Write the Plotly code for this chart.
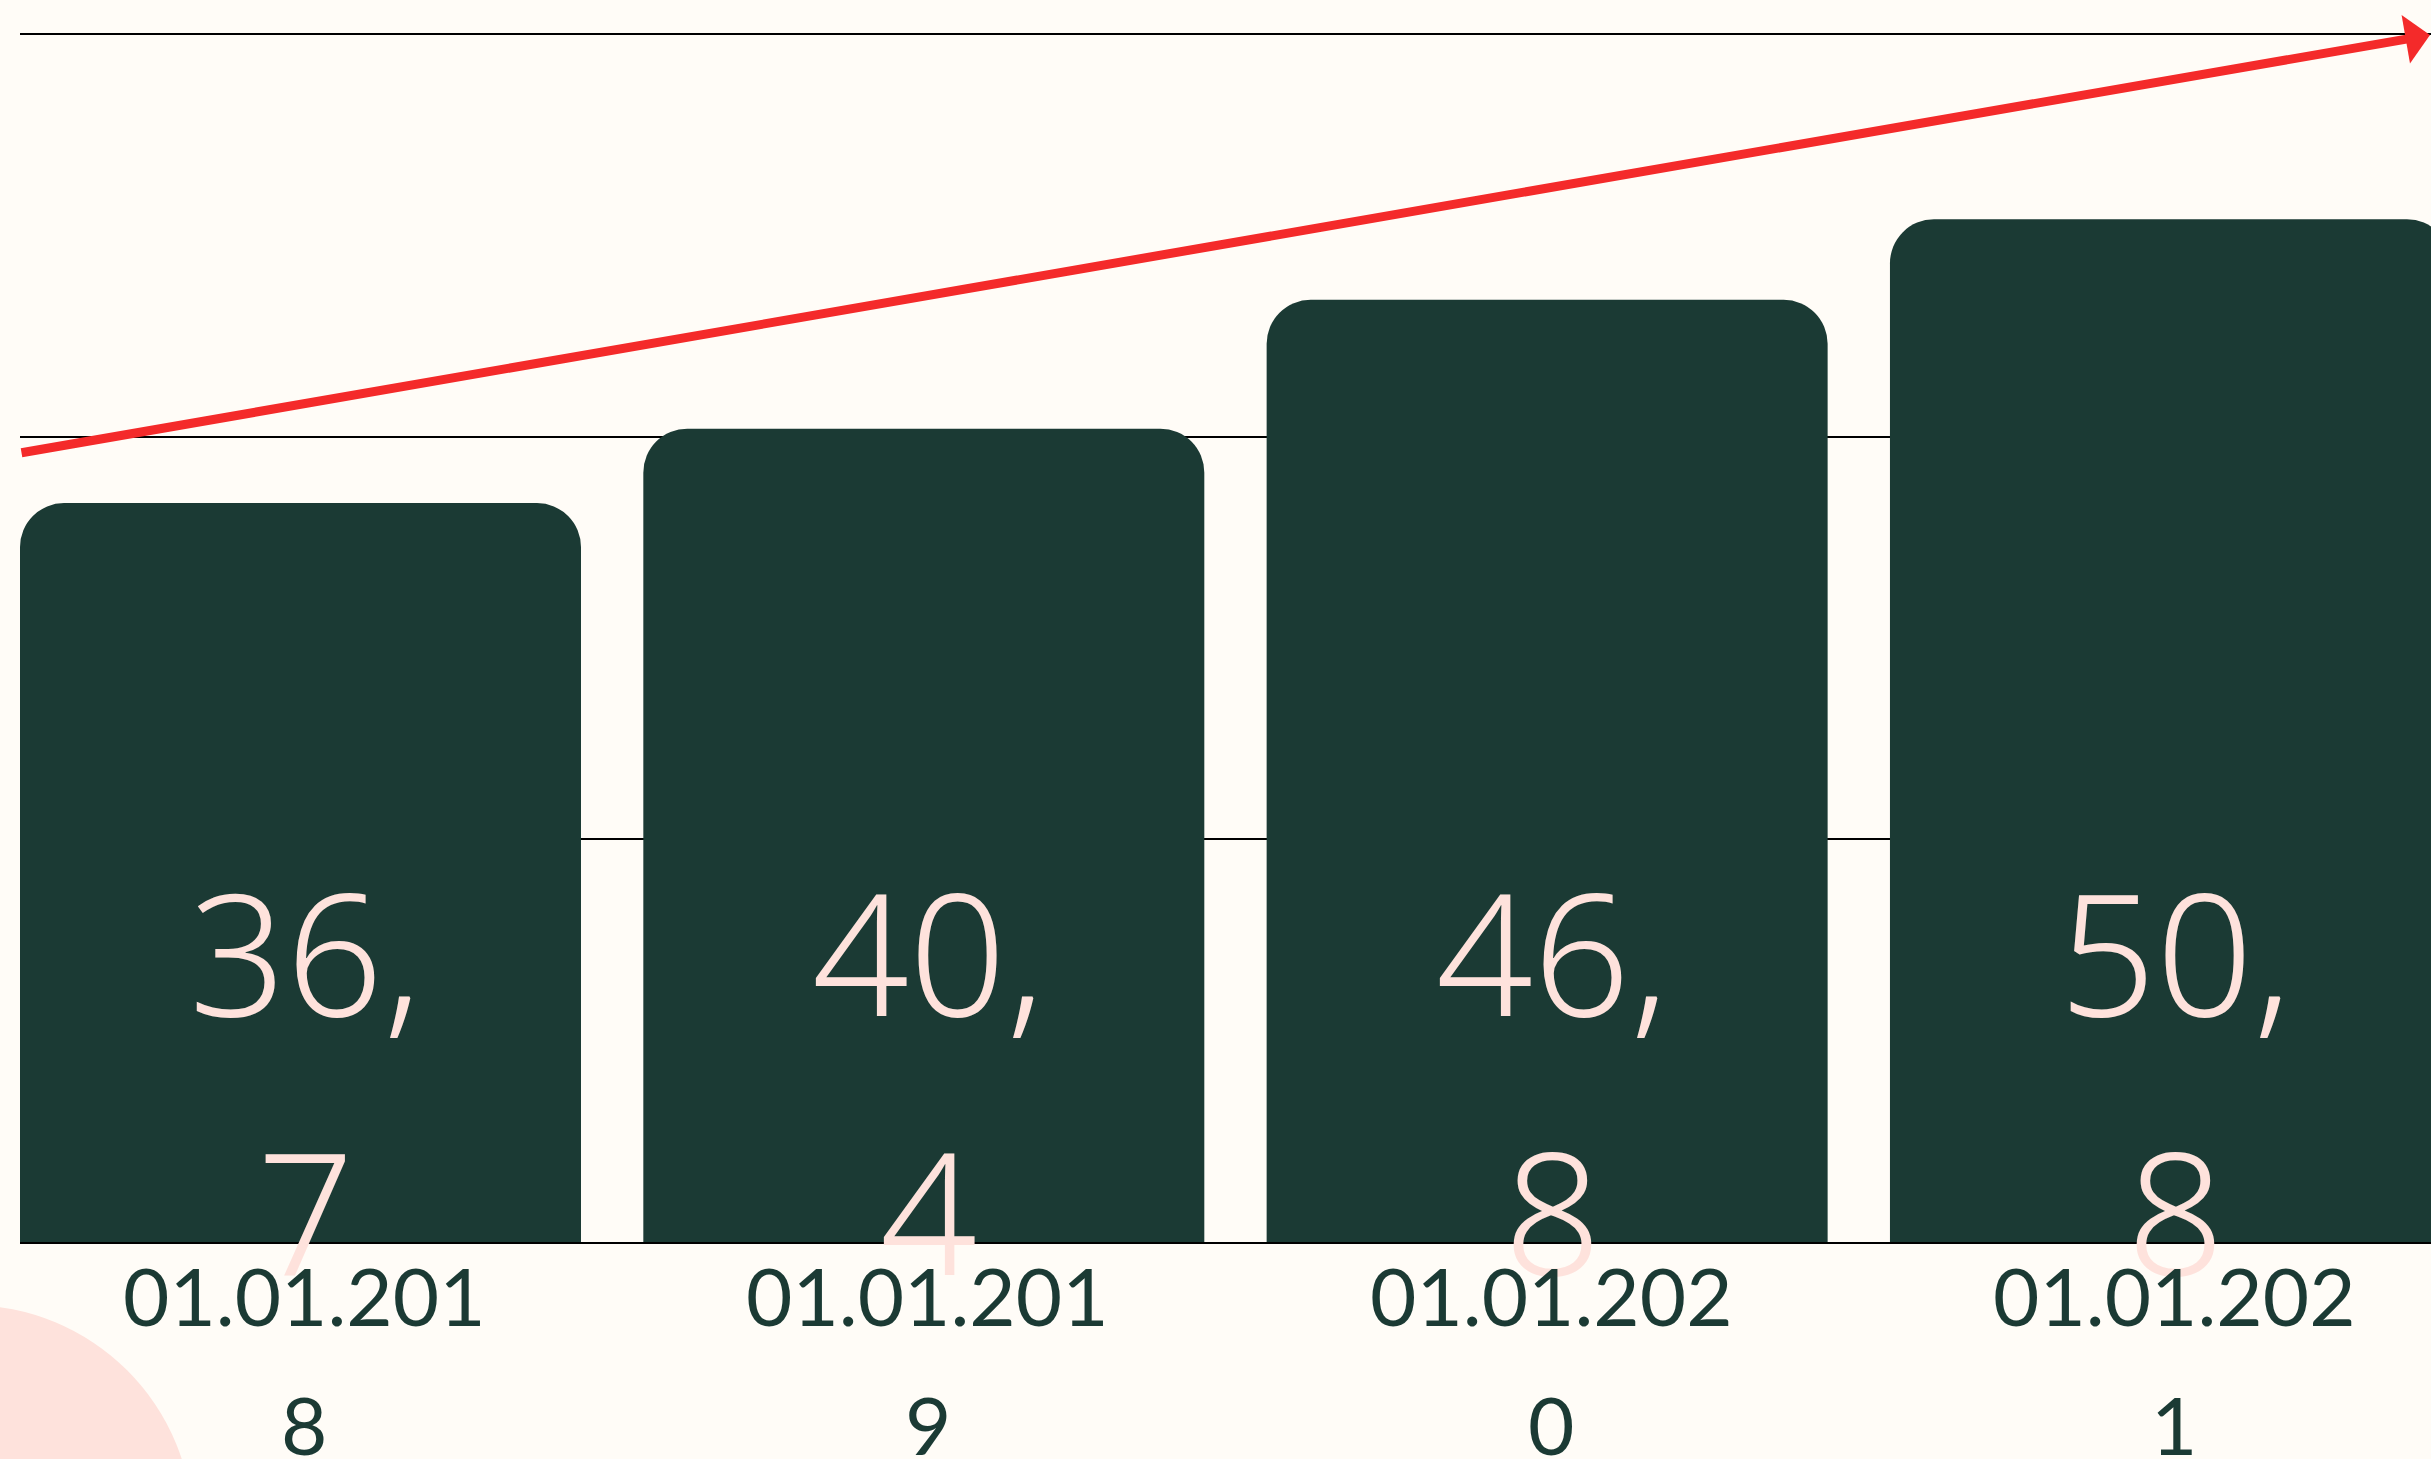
import plotly.graph_objects as go

# ---- data ----
dates = ["01.01.2018", "01.01.2019", "01.01.2020", "01.01.2021"]
values = [36.7, 40.4, 46.8, 50.8]
y_ticks = [0, 20, 40, 60]

# ---- style ----
BG = "#fffcf7"
BAR = "#1b3a34"
PINK = "#fee2dc"
RED = "#f42a2a"
VALUE_FONT = "Noto Sans"
LABEL_FONT = "Lato"

W, H = 2431, 1459
ML, MR, MT, MB = 20, 0, 30, 217
Y_TOP = 60.2

x = list(range(len(dates)))

fig = go.Figure(
    go.Bar(
        x=x,
        y=values,
        width=0.9,
        marker=dict(color=BAR, cornerradius=44, line=dict(width=0)),
        hoverinfo="skip",
    )
)

# value labels, wrapped after the decimal comma
for xi, v in zip(x, values):
    s = f"{v:.1f}".replace(".", ",")
    head, tail = s.split(",")
    for txt, shift in ((head + ",", 292), (tail, 33)):
        fig.add_annotation(
            x=xi, y=0, xref="x", yref="y",
            text=txt, showarrow=False,
            xanchor="center", yanchor="middle", yshift=shift, xshift=5,
            font=dict(family=VALUE_FONT, size=170, color=PINK, weight=300),
        )

# category labels, wrapped before the last character
for xi, d in zip(x, dates):
    for txt, shift in ((d[:-1], -53), (d[-1], -182)):
        fig.add_annotation(
            x=xi, y=0, xref="x", yref="y",
            text=txt, showarrow=False,
            xanchor="center", yanchor="middle", yshift=shift, xshift=4,
            font=dict(family=LABEL_FONT, size=80, color=BAR),
        )

# trend arrow
plot_w = W - ML - MR
plot_h = H - MT - MB
tip_px = (2456, 35)
start_px = (20, 453)
fig.add_annotation(
    x=(tip_px[0] - ML) / plot_w,
    y=(H - MB - tip_px[1]) / plot_h,
    xref="paper", yref="paper",
    ax=start_px[0] - tip_px[0], ay=start_px[1] - tip_px[1],
    axref="pixel", ayref="pixel",
    text="", showarrow=True,
    arrowhead=1, arrowsize=0.91, arrowwidth=9, arrowcolor=RED,
    standoff=0, startstandoff=0,
)

# decorative pink circle bottom-left
cx, cy, r = -31, 1529, 224
fig.add_shape(
    type="circle", xref="paper", yref="paper", layer="below",
    x0=(cx - r - ML) / plot_w, x1=(cx + r - ML) / plot_w,
    y0=(H - MB - (cy + r)) / plot_h, y1=(H - MB - (cy - r)) / plot_h,
    fillcolor=PINK, line=dict(width=0),
)

fig.update_layout(
    width=W, height=H,
    margin=dict(l=ML, r=MR, t=MT, b=MB, pad=0),
    paper_bgcolor=BG, plot_bgcolor="rgba(0,0,0,0)",
    showlegend=False,
    xaxis=dict(
        range=[-0.45, 3.418],
        tickvals=x, showticklabels=False,
        showgrid=False, zeroline=False,
        showline=True, linecolor="black", linewidth=2,
        ticks="", automargin=False, fixedrange=True,
    ),
    yaxis=dict(
        range=[0, Y_TOP], tickvals=y_ticks,
        showticklabels=False,
        showgrid=True, gridcolor="black", gridwidth=2,
        zeroline=False, showline=False, ticks="", automargin=False,
        fixedrange=True,
    ),
)

fig.write_html(
    "out.html",
    config={"displayModeBar": False},
    post_script="document.body.style.margin='0';document.body.style.overflow='hidden';",
)
